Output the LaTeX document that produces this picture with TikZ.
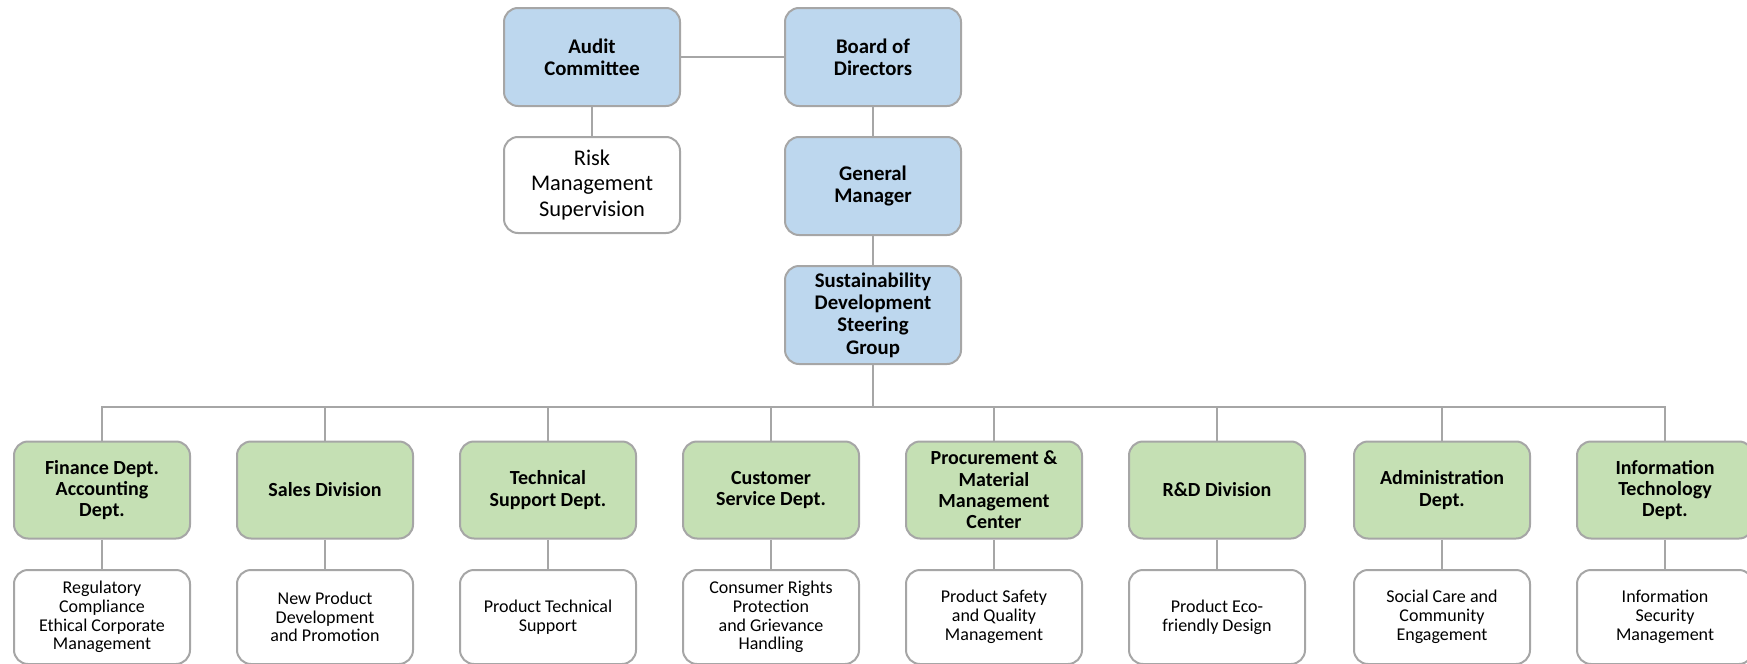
\documentclass[tikz,border=0pt]{standalone}
\usepackage{fontspec}
\setmainfont{Carlito}
\definecolor{boxblue}{HTML}{BDD7EE}
\definecolor{boxgreen}{HTML}{C5E0B4}
\definecolor{linegray}{HTML}{A6A6A6}

\begin{document}
\begin{tikzpicture}[x=0.5pt,y=-0.5pt,
  box/.style={draw=linegray,line width=1pt,rounded corners=7pt,align=center,minimum width=88pt,inner sep=2pt},
  head/.style={box,fill=boxblue,minimum height=49pt,font=\bfseries\fontsize{10.4}{11.2}\selectfont},
  dept/.style={box,fill=boxgreen,minimum height=48.5pt,font=\bfseries\fontsize{10}{10.7}\selectfont},
  task/.style={box,fill=white,minimum height=47pt,font=\fontsize{9}{9.4}\selectfont},
  link/.style={draw=linegray,line width=1pt}]
\useasboundingbox (0,0) rectangle (1747,664);
% top of the chart
\node[head] (audit) at (592,57) {Audit\\Committee};
\node[head] (board) at (873,57) {Board of\\Directors};
\node[box,fill=white,minimum height=48pt,font=\fontsize{11.2}{12.6}\selectfont] (risk) at (592,185) {Risk\\Management\\Supervision};
\node[head] (gm) at (873,186) {General\\Manager};
\node[head] (sdg) at (873,315) {Sustainability\\Development\\Steering\\Group};
\coordinate (bus) at (873,407);
% departments
\node[dept] (d1) at (102,490) {Finance Dept.\\Accounting\\Dept.};
\node[dept] (d2) at (325,490) {Sales Division};
\node[dept] (d3) at (548,490) {Technical\\Support Dept.};
\node[dept] (d4) at (771,490) {Customer\\Service Dept.};
\node[dept] (d5) at (994,490) {Procurement \&\\Material\\Management\\Center};
\node[dept] (d6) at (1217,490) {R\&D Division};
\node[dept] (d7) at (1442,490) {Administration\\Dept.};
\node[dept] (d8) at (1665,490) {Information\\Technology\\Dept.};
% tasks
\node[task] (t1) at (102,617) {Regulatory\\Compliance\\Ethical Corporate\\Management};
\node[task] (t2) at (325,617) {New Product\\Development\\and Promotion};
\node[task] (t3) at (548,617) {Product Technical\\Support};
\node[task] (t4) at (771,617) {Consumer Rights\\Protection\\and Grievance\\Handling};
\node[task] (t5) at (994,617) {Product Safety\\and Quality\\Management};
\node[task] (t6) at (1217,617) {Product Eco-\\friendly Design};
\node[task] (t7) at (1442,617) {Social Care and\\Community\\Engagement};
\node[task] (t8) at (1665,617) {Information\\Security\\Management};
% connectors
\path [link] (audit) edge (board);
\path [link] (audit) edge (risk);
\path [link] (board) edge (gm);
\path [link] (gm) edge (sdg);
\path [link] (sdg) edge (bus);
\draw [link] (bus) -| (d1);
\draw [link] (bus) -| (d2);
\draw [link] (bus) -| (d3);
\draw [link] (bus) -| (d4);
\draw [link] (bus) -| (d5);
\draw [link] (bus) -| (d6);
\draw [link] (bus) -| (d7);
\draw [link] (bus) -| (d8);
\path [link] (d1) edge (t1);
\path [link] (d2) edge (t2);
\path [link] (d3) edge (t3);
\path [link] (d4) edge (t4);
\path [link] (d5) edge (t5);
\path [link] (d6) edge (t6);
\path [link] (d7) edge (t7);
\path [link] (d8) edge (t8);
\end{tikzpicture}
\end{document}
